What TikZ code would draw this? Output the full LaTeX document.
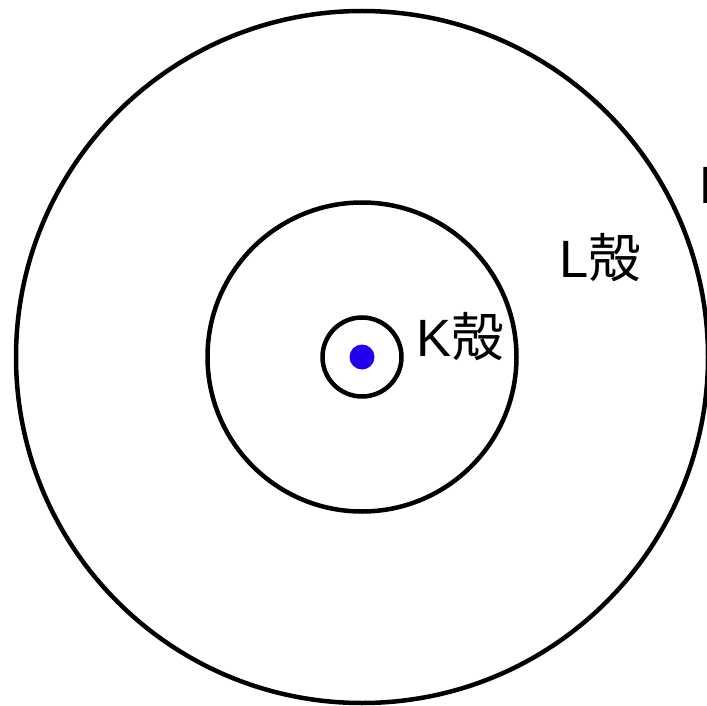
\documentclass[tikz,border=0pt]{standalone}
\usepackage{fontspec}
\setmainfont{Liberation Sans}
\newfontfamily\cjk{Noto Sans CJK JP}
\definecolor{nucleus}{HTML}{2200EE}
\begin{document}
\begin{tikzpicture}[x=1pt,y=-1pt,
  shell/.style={draw=black,line width=4.5pt,circle,inner sep=0pt},
  lbl/.style={inner sep=0pt,anchor=base west,font=\fontsize{52.5}{60}\selectfont}]
\useasboundingbox (0,0) rectangle (707,706);
\node[shell,minimum size=692pt] (m) at (362,357) {};
\node[shell,minimum size=309pt] (l) at (362,357) {};
\node[shell,minimum size=79pt] (k) at (362,357) {};
\node[circle,fill=nucleus,inner sep=0pt,minimum size=25pt] (n) at (362,357) {};
\node[lbl] (kt) at (416,356) {K{\cjk 殻}};
\node[lbl] (lt) at (559,277) {L{\cjk 殻}};
\node[lbl] (mt) at (699,203) {M{\cjk 殻}};
\end{tikzpicture}
\end{document}
